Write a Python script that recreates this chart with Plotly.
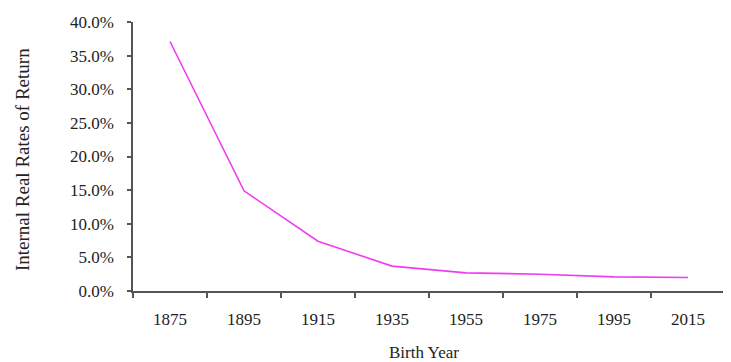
import plotly.graph_objects as go

birth_years = ["1875", "1895", "1915", "1935", "1955", "1975", "1995", "2015"]
irr_values = [0.371, 0.149, 0.074, 0.037, 0.027, 0.025, 0.021, 0.020]

fig = go.Figure()
fig.add_trace(go.Scatter(
    x=birth_years, y=irr_values, mode="lines",
    line=dict(color="#f03cf0", width=1.6),
    showlegend=False,
))

fam = "Liberation Serif, Times New Roman, serif"
font = dict(family=fam, size=17, color="#222")

# page body has an 8px margin, so the figure is sized to fit inside the window
fig.update_layout(
    width=723, height=354,
    margin=dict(l=125, r=6, t=14, b=71),
    paper_bgcolor="white", plot_bgcolor="white",
    font=font,
)
fig.update_xaxes(
    type="category", tickson="boundaries", range=[-0.5, 7.5],
    showline=True, linecolor="#555", linewidth=1.5,
    ticks="outside", ticklen=5, tickcolor="#555", tickwidth=1.5,
    showgrid=False, zeroline=False, automargin=False,
    ticklabelstandoff=12,
)
fig.update_yaxes(
    range=[0, 0.40], dtick=0.05, tickformat=".1%",
    showline=True, linecolor="#555", linewidth=1.5,
    ticks="outside", ticklen=4, tickcolor="#555", tickwidth=1.5,
    showgrid=False, zeroline=False, automargin=False,
    ticklabelstandoff=10,
)
fig.add_annotation(
    text="Internal Real Rates of Return", textangle=-90,
    xref="paper", yref="paper", x=0, y=0.487,
    xanchor="center", yanchor="middle", xshift=-110, showarrow=False,
    font=dict(family=fam, size=19, color="#222"),
)
fig.add_annotation(
    text="Birth Year",
    xref="paper", yref="paper", x=0.5, y=0,
    xanchor="center", yanchor="middle", xshift=-5, yshift=-61, showarrow=False,
    font=dict(family=fam, size=17, color="#222"),
)

fig.write_html("out.html")
